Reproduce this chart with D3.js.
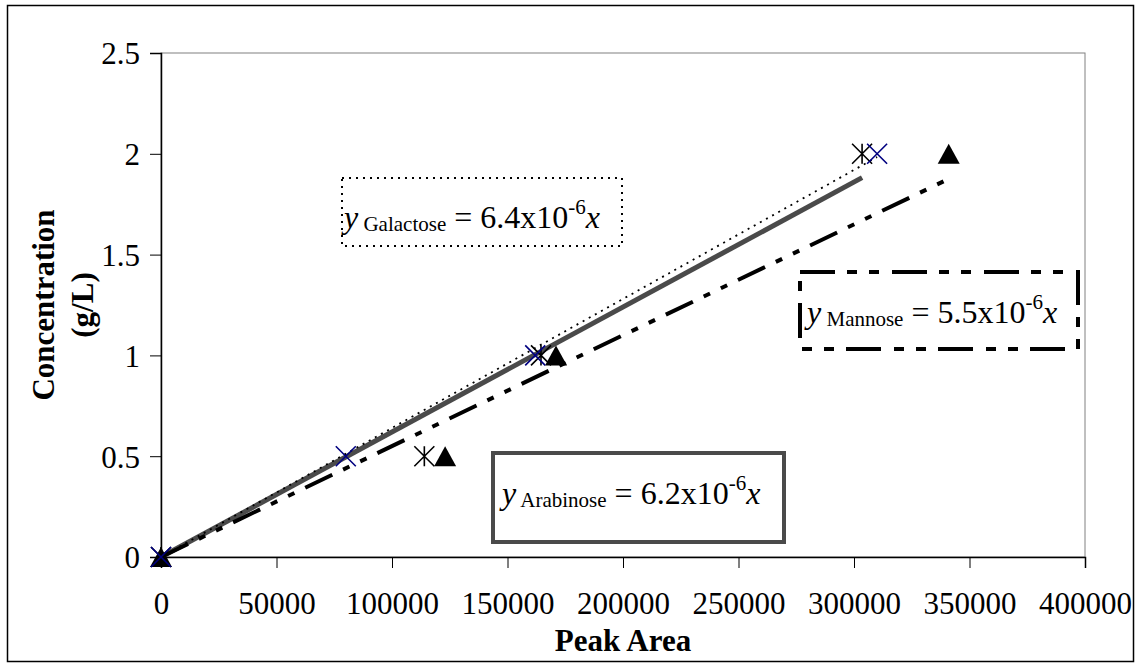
<!DOCTYPE html>
<html>
<head>
  <meta charset="utf-8">
  <title>Sugar calibration</title>
  <style>
    body {
      margin: 0;
      background: #fff;
      font-family: 'Liberation Serif', 'Times New Roman', serif;
    }
    text {
      white-space: pre;
    }
  </style>
</head>
<body>
  <div id="chart"></div>
  <script src="https://d3js.org/d3.v7.min.js"></script>
  <script>
    var galactoseArea = [0, 80000, 162000, 310000];
    var galactoseConc = [0, 0.5, 1, 2];
    var arabinoseArea = [0, 114000, 164500, 303500];
    var arabinoseConc = [0, 0.5, 1, 2];
    var mannoseArea = [0, 123000, 171000, 341000];
    var mannoseConc = [0, 0.5, 1, 2];

    // trendline slopes (through origin)
    var slopes = { Galactose: 6.4e-6, Arabinose: 6.2e-6, Mannose: 5.5e-6 };

    var xTicks = [0, 50000, 100000, 150000, 200000, 250000, 300000, 350000, 400000];
    var yTicks = [0, 0.5, 1, 1.5, 2, 2.5];

    var width = 1138,
      height = 667;
    var plot = { left: 161, right: 1085, top: 53, bottom: 557 };

    var x = d3.scaleLinear().domain([0, 400000]).range([plot.left, plot.right]);
    var y = d3.scaleLinear().domain([0, 2.5]).range([plot.bottom, plot.top]);

    var svg = d3.select("#chart").append("svg")
      .attr("width", width)
      .attr("height", height);

    // outer chart border
    svg.append("rect")
      .attr("x", 7.5).attr("y", 5.5)
      .attr("width", 1126).attr("height", 656)
      .attr("fill", "none")
      .attr("stroke", "#000")
      .attr("stroke-width", 1.5);

    // plot area border (gray)
    svg.append("rect")
      .attr("x", plot.left).attr("y", plot.top)
      .attr("width", plot.right - plot.left).attr("height", plot.bottom - plot.top)
      .attr("fill", "none")
      .attr("stroke", "#808080")
      .attr("stroke-width", 1);

    // axes
    var xAxis = d3.axisBottom(x).tickValues(xTicks).tickSize(11).tickPadding(24)
      .tickFormat(d3.format("d"));
    var yAxis = d3.axisLeft(y).tickValues(yTicks).tickSize(11).tickPadding(10)
      .tickFormat(function(d) { return String(d); });

    var gx = svg.append("g").attr("transform", "translate(0," + plot.bottom + ")").call(xAxis);
    var gy = svg.append("g").attr("transform", "translate(" + plot.left + ",0)").call(yAxis);

    [gx, gy].forEach(function(g) {
      g.select(".domain").attr("stroke", "#000").attr("stroke-width", 1.5);
      g.selectAll(".tick line").attr("stroke", "#000").attr("stroke-width", 1);
      g.selectAll(".tick text")
        .attr("fill", "#000")
        .style("font-family", "'Liberation Serif', serif")
        .style("font-size", "31px");
    });
    gy.selectAll(".tick text").attr("dy", "0.35em");

    // axis titles
    svg.append("text")
      .attr("x", (plot.left + plot.right) / 2)
      .attr("y", 651)
      .attr("text-anchor", "middle")
      .style("font-size", "31px")
      .style("font-weight", "bold")
      .text("Peak Area");

    var yTitle = svg.append("text")
      .attr("transform", "translate(43," + ((plot.top + plot.bottom) / 2) + ") rotate(-90)")
      .attr("text-anchor", "middle")
      .style("font-size", "31px")
      .style("font-weight", "bold");
    yTitle.append("tspan").attr("x", 0).attr("dy", "0.35em").text("Concentration");
    yTitle.append("tspan").attr("x", 0).attr("dy", "1.25em").text("(g/L)");

    // trendlines
    var line = d3.line()
      .x(function(d) { return x(d[0]); })
      .y(function(d) { return y(d[1]); });

    function trend(name, areas) {
      var maxX = d3.max(areas);
      return [[0, 0], [maxX, slopes[name] * maxX]];
    }

    svg.append("path")
      .attr("d", line(trend("Arabinose", arabinoseArea)))
      .attr("fill", "none")
      .attr("stroke", "#4a4a4a")
      .attr("stroke-width", 5);

    svg.append("path")
      .attr("d", line(trend("Mannose", mannoseArea)))
      .attr("fill", "none")
      .attr("stroke", "#000")
      .attr("stroke-width", 4)
      .attr("stroke-dasharray", "30,12,7,12,7,12");

    svg.append("path")
      .attr("d", line(trend("Galactose", galactoseArea)))
      .attr("fill", "none")
      .attr("stroke", "#000")
      .attr("stroke-width", 1.8)
      .attr("stroke-dasharray", "2,5");

    // markers
    var r = 10;

    svg.append("g").selectAll("path")
      .data(d3.zip(mannoseArea, mannoseConc))
      .enter().append("path")
      .attr("transform", function(d) { return "translate(" + x(d[0]) + "," + y(d[1]) + ")"; })
      .attr("d", "M0," + (-r) + "L" + (r + 1) + "," + r + "L" + (-r - 1) + "," + r + "Z")
      .attr("fill", "#000");

    svg.append("g").selectAll("path")
      .data(d3.zip(arabinoseArea, arabinoseConc))
      .enter().append("path")
      .attr("transform", function(d) { return "translate(" + x(d[0]) + "," + y(d[1]) + ")"; })
      .attr("d", "M" + (-r) + "," + (-r) + "L" + r + "," + r +
        "M" + r + "," + (-r) + "L" + (-r) + "," + r +
        "M0," + (-r) + "L0," + r)
      .attr("stroke", "#000")
      .attr("stroke-width", 1.6)
      .attr("fill", "none");

    svg.append("g").selectAll("path")
      .data(d3.zip(galactoseArea, galactoseConc))
      .enter().append("path")
      .attr("transform", function(d) { return "translate(" + x(d[0]) + "," + y(d[1]) + ")"; })
      .attr("d", "M" + (-r) + "," + (-r) + "L" + r + "," + r +
        "M" + r + "," + (-r) + "L" + (-r) + "," + r)
      .attr("stroke", "#000080")
      .attr("stroke-width", 1.6)
      .attr("fill", "none");

    // equation boxes
    var boxes = [
      { name: "Galactose", x: 342, y: 178, w: 280, h: 68, stroke: "#000", sw: 2, dash: "2,5", tx: 344, ty: 228 },
      { name: "Mannose", x: 800, y: 272, w: 278, h: 77, stroke: "#000", sw: 4, dash: "35,12,10,12,10,13", tx: 807, ty: 323 },
      { name: "Arabinose", x: 493, y: 453, w: 291, h: 89, stroke: "#4a4a4a", sw: 4, dash: null, tx: 502, ty: 504 }
    ];

    var bx = svg.append("g").selectAll("g")
      .data(boxes)
      .enter().append("g");

    bx.append("rect")
      .attr("x", function(d) { return d.x; })
      .attr("y", function(d) { return d.y; })
      .attr("width", function(d) { return d.w; })
      .attr("height", function(d) { return d.h; })
      .attr("fill", "#fff")
      .attr("stroke", function(d) { return d.stroke; })
      .attr("stroke-width", function(d) { return d.sw; })
      .attr("stroke-dasharray", function(d) { return d.dash; });

    var eq = bx.append("text")
      .attr("x", function(d) { return d.tx; })
      .attr("y", function(d) { return d.ty; })
      .style("font-size", "32px");

    eq.append("tspan").style("font-style", "italic").text("y");
    eq.append("tspan").style("font-size", "21px").attr("dy", 3)
      .text(function(d) { return " " + d.name; });
    eq.append("tspan").attr("dy", -3)
      .text(function(d) { return " = " + (slopes[d.name] * 1e6).toFixed(1) + "x10"; });
    eq.append("tspan").style("font-size", "21px").attr("dy", -14).text("-6");
    eq.append("tspan").style("font-style", "italic").attr("dy", 14).text("x");
  </script>
</body>
</html>
